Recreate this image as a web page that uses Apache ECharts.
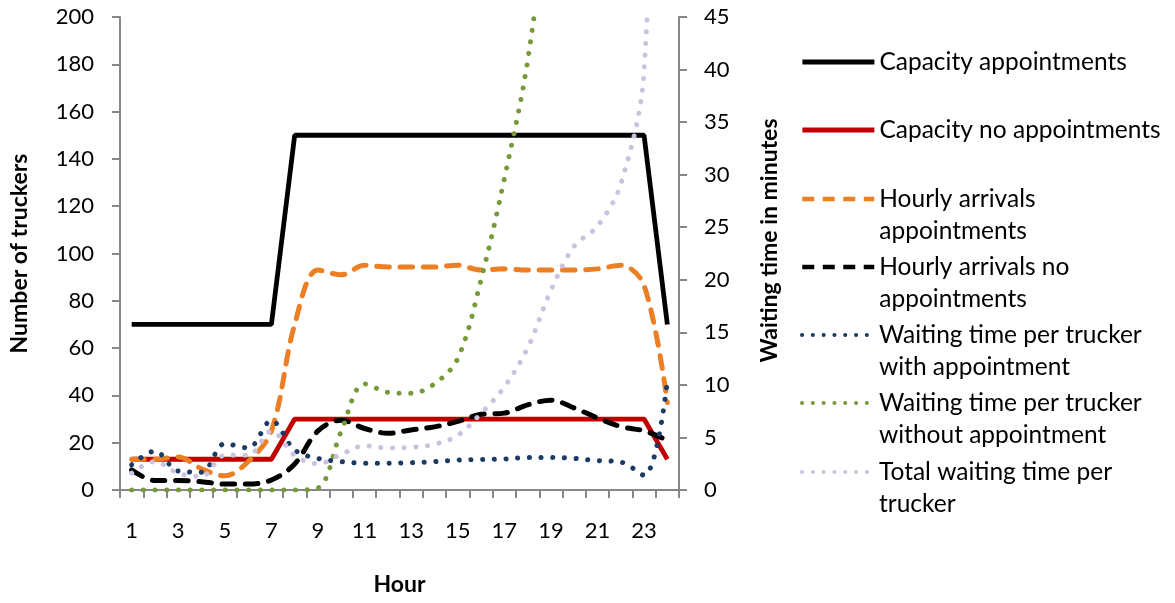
<!DOCTYPE html>
<html><head><meta charset="utf-8">
<script src="https://cdn.jsdelivr.net/npm/echarts@6.0.0/dist/echarts.min.js"></script>
<style>html,body{margin:0;padding:0;background:#fff}#c{width:1175px;height:603px}</style>
</head><body><div id="c"></div>
<script>
// ---- data ----
const hours = ['1','2','3','4','5','6','7','8','9','10','11','12','13','14','15','16','17','18','19','20','21','22','23','24'];
const capacityAppointments = [70,70,70,70,70,70,70,150,150,150,150,150,150,150,150,150,150,150,150,150,150,150,150,70];
const capacityNoAppointments = [13,13,13,13,13,13,13,30,30,30,30,30,30,30,30,30,30,30,30,30,30,30,30,13];
const arrivalsAppointments = [13,13,14,9,6,12,25,70,93,91,95,94.3,94.3,94.3,95,93,93.5,93,93,93,93.5,95,86.5,37];
const arrivalsNoAppointments = [8.5,4,4,3.5,2.5,2.5,4.2,11,25,29.5,26,24,25.4,26.7,29,32,32.5,36,38,34.7,30.5,26.8,25,21];
const waitWithAppointment = [2.4,3.7,1.8,1.7,4.4,4.0,6.6,3.8,3.0,2.7,2.55,2.55,2.6,2.7,2.85,2.9,2.95,3.1,3.1,3.0,2.8,2.66,1.4,10.4];
const waitWithoutAppointment = [0,0,0,0,0,0,0,0,0.2,5.6,10.1,9.3,9.2,10.1,12.5,20.0,29.6,40.8,58,null,null,null,null,null];
const totalWait = [1.6,2.7,1.6,1.3,3.3,3.3,5.6,3.3,2.5,3.4,4.2,4.0,4.06,4.35,5.2,7.3,9.8,13.5,19.0,23.2,25.1,29.1,39.8,100];
const leftTicks = {min:0, max:200, interval:20};
const rightTicks = {min:0, max:45, interval:5};
const names = ['Capacity appointments','Capacity no appointments','Hourly arrivals appointments','Hourly arrivals no appointments','Waiting time per trucker with appointment','Waiting time per trucker without appointment','Total waiting time per trucker'];
const legendLines = [['Capacity appointments'],['Capacity no appointments'],['Hourly arrivals','appointments'],['Hourly arrivals no','appointments'],['Waiting time per trucker','with appointment'],['Waiting time per trucker','without appointment'],['Total waiting time per','trucker']];

// ---- chart ----
const FONT = 'Lato';
const axisColor = '#868686';
const chart = echarts.init(document.getElementById('c'), null, {renderer:'canvas'});
const legendY = [62,130,199,267,335,403,472];
const solid = {width:4.8, type:'solid', cap:'butt'};
const dotted = {width:5, type:[0.1,11.6], cap:'round'};
const dashed = {width:5, type:[12.5,10.8], cap:'round'};
const colors = ['#000000','#C00000','#EC7E24','#000000','#1B3B64','#76993A','#CCC1DE'];
const styles = [solid, solid, dashed, dashed, dotted, dotted, dotted];
const legendStyles = [solid, solid, {width:4.5, type:[12,8.5], cap:'butt'}, {width:4.5, type:[12,8.5], cap:'butt'},
  {width:4, type:[0.1,10.7], cap:'round'}, {width:4, type:[0.1,10.7], cap:'round'}, {width:4, type:[0.1,10.7], cap:'round'}];
function line(i, data, yIdx, smooth){
  return {name:names[i], type:'line', data:data, yAxisIndex:yIdx, symbol:'none', showSymbol:false,
    smooth: smooth, connectNulls:false, clip:true,
    lineStyle:Object.assign({color:colors[i]}, styles[i]), itemStyle:{color:colors[i]}, animation:false};
}
const titleStyle = {fontWeight:'bold', fontSize:23, color:'#000', fontFamily:FONT};
const option = {
  animation:false,
  grid:{left:120, right:496, top:17, bottom:113, containLabel:false},
  xAxis:{type:'category', data:hours, boundaryGap:true,
    axisLine:{lineStyle:{color:axisColor, width:2}},
    axisTick:{show:true, interval:0, length:8, lineStyle:{color:axisColor, width:2}},
    axisLabel:{interval:1, margin:30, color:'#000', fontFamily:FONT, fontSize:22},
    splitLine:{show:false},
    name:'Hour', nameLocation:'middle', nameGap:83, nameTextStyle:titleStyle},
  yAxis:[
    {type:'value', min:leftTicks.min, max:leftTicks.max, interval:leftTicks.interval, position:'left',
      axisLine:{show:true, lineStyle:{color:axisColor, width:2}},
      axisTick:{show:true, length:8, lineStyle:{color:axisColor, width:2}},
      axisLabel:{margin:26, color:'#000', fontFamily:FONT, fontSize:22},
      splitLine:{show:false},
      name:'Number of truckers', nameLocation:'middle', nameGap:89, nameTextStyle:titleStyle},
    {type:'value', min:rightTicks.min, max:rightTicks.max, interval:rightTicks.interval, position:'right',
      axisLine:{show:true, lineStyle:{color:axisColor, width:2}},
      axisTick:{show:true, length:8, lineStyle:{color:axisColor, width:2}},
      axisLabel:{margin:25, color:'#000', fontFamily:FONT, fontSize:22},
      splitLine:{show:false},
      name:'Waiting time in minutes', nameLocation:'middle', nameGap:79, nameRotate:90,
      nameTextStyle:Object.assign({padding:[0,0,0,26]}, titleStyle)}
  ],
  legend: legendLines.map((lines,i)=>({
    data:[names[i]], orient:'vertical', left:800, top: legendY[i] - (lines.length>1 ? 48 : 16),
    padding:0, itemWidth:72, itemHeight:14, itemGap:0, selectedMode:false,
    itemStyle:{opacity:0, borderWidth:0},
    lineStyle:Object.assign({color:colors[i]}, legendStyles[i]),
    formatter: ()=> (lines.length>1 ? ' \n' : '') + lines.join('\n'),
    textStyle:{fontSize:24.5, lineHeight:32, color:'#000', fontFamily:FONT}
  })),
  series:[
    line(0, capacityAppointments, 0, false),
    line(1, capacityNoAppointments, 0, false),
    line(2, arrivalsAppointments, 0, 0.35),
    line(3, arrivalsNoAppointments, 0, 0.35),
    line(4, waitWithAppointment, 1, 0.35),
    line(5, waitWithoutAppointment, 1, 0.35),
    line(6, totalWait, 1, 0.35)
  ]
};
chart.setOption(option);
</script>
</body></html>
